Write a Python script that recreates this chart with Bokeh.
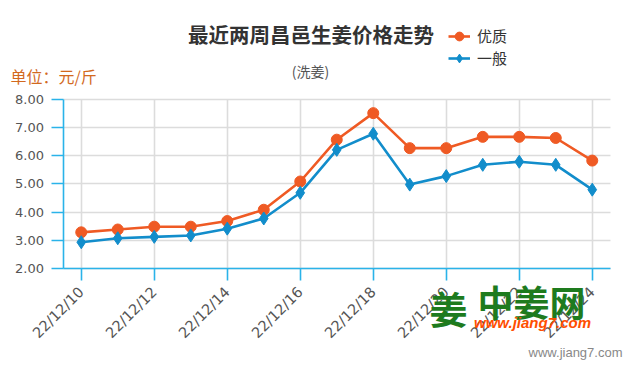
from bokeh.plotting import figure
from bokeh.models import (Range1d, FixedTicker, PrintfTickFormatter, Label,
                          Legend, LegendItem)
from bokeh.embed import file_html
from bokeh.resources import INLINE
import math

dates = ["22/12/10", "22/12/11", "22/12/12", "22/12/13", "22/12/14",
         "22/12/15", "22/12/16", "22/12/17", "22/12/18", "22/12/19",
         "22/12/20", "22/12/21", "22/12/22", "22/12/23", "22/12/24"]
premium = [3.28, 3.38, 3.48, 3.48, 3.68, 4.08, 5.08, 6.56, 7.50, 6.26,
           6.26, 6.66, 6.66, 6.62, 5.82]
ordinary = [2.93, 3.07, 3.12, 3.17, 3.41, 3.77, 4.68, 6.20, 6.77, 4.97,
            5.27, 5.67, 5.78, 5.67, 4.79]
y_ticks = [2, 3, 4, 5, 6, 7, 8]
series_names = ["优质", "一般"]

ORANGE = "#ef5a24"
BLUE = "#128dcb"
AXIS = "#2ab3e9"
GRID = "#dcdcdc"

W, H = 630, 370
# plot area in canvas pixels (from top-left)
PL, PR, PT, PB = 62.5, 610.0, 98.5, 268.0
x0, x1 = -0.5, len(dates) - 0.5
y0, y1 = y_ticks[0], y_ticks[-1]
kx = (PR - PL) / (x1 - x0)
ky = (PB - PT) / (y1 - y0)
xr = Range1d(x0 - PL / kx, x1 + (W - PR) / kx)
yr = Range1d(y0 - (H - PB) / ky, y1 + PT / ky)

p = figure(width=W, height=H, output_backend="svg", toolbar_location=None,
           x_range=xr, y_range=yr, min_border=0)
p.outline_line_color = None
p.background_fill_color = "white"
p.border_fill_color = "white"

xs = list(range(len(dates)))
xt = xs[::2]

# grid
grid_ok = "cross_bounds" in p.xgrid[0].properties()
if grid_ok:
    p.xgrid.ticker = FixedTicker(ticks=xt)
    p.ygrid.ticker = FixedTicker(ticks=y_ticks)
    p.xgrid.cross_bounds = (y0, y1)
    p.ygrid.cross_bounds = (x0, x1)
    p.xgrid.bounds = (x0, x1)
    p.ygrid.bounds = (y0, y1)
    for g in (p.xgrid, p.ygrid):
        g.grid_line_color = GRID
        g.grid_line_width = 1.6
else:
    p.xgrid.visible = False
    p.ygrid.visible = False
    p.segment(x0=xt, y0=[y0] * len(xt), x1=xt, y1=[y1] * len(xt),
              line_color=GRID, line_width=1.6)
    p.segment(x0=[x0] * len(y_ticks), y0=y_ticks, x1=[x1] * len(y_ticks),
              y1=y_ticks, line_color=GRID, line_width=1.6)

l1 = p.line(xs, premium, line_color=ORANGE, line_width=2.6)
m1 = p.scatter(xs, premium, marker="circle", size=11, fill_color=ORANGE,
               line_color=ORANGE)
l2 = p.line(xs, ordinary, line_color=BLUE, line_width=2.6)
m2 = p.scatter(xs, ordinary, marker="diamond", size=13, fill_color=BLUE,
               line_color=BLUE)

p.xaxis.fixed_location = y0
p.yaxis.fixed_location = x0
p.xaxis.bounds = (x0, x1)
p.yaxis.bounds = (y0, y1)
p.xaxis.ticker = FixedTicker(ticks=xt)
p.xaxis.major_label_overrides = {i: dates[i] for i in xt}
p.xaxis.major_label_orientation = math.pi / 4
p.yaxis.ticker = FixedTicker(ticks=y_ticks)
p.yaxis.formatter = PrintfTickFormatter(format="%.2f")

for ax in (p.xaxis, p.yaxis):
    ax.axis_line_color = AXIS
    ax.axis_line_width = 1.6
    ax.major_tick_line_color = AXIS
    ax.major_tick_line_width = 1.6
    ax.major_tick_in = 0
    ax.major_tick_out = 12
    ax.minor_tick_line_color = None
    ax.major_label_text_color = "#555555"
    ax.major_label_text_font = "DejaVu Sans"
p.xaxis.major_label_text_font_size = "14.5px"
p.yaxis.major_label_text_font_size = "13px"
p.yaxis.major_label_standoff = 7
p.xaxis.major_label_standoff = 9

legend = Legend(items=[LegendItem(label=series_names[0], renderers=[l1, m1]),
                       LegendItem(label=series_names[1], renderers=[l2, m2])],
                location=(448, H - 68.5), orientation="vertical",
                label_text_font="Noto Sans CJK SC", label_text_font_size="15px",
                label_text_color="#333333", glyph_width=22, glyph_height=22,
                label_height=22, label_standoff=7, spacing=0, padding=0,
                margin=0, border_line_color=None, background_fill_alpha=0)
p.add_layout(legend, "center")


def lab(text, fx, fy, size, color, align="left", bold=False, italic=False,
        font="Noto Sans CJK SC"):
    style = "bold" if bold else "normal"
    if italic:
        style = "bold italic" if bold else "italic"
    p.add_layout(Label(x=fx, y=H - fy, x_units="screen", y_units="screen",
                       text=text, text_font=font, text_font_size=size,
                       text_color=color, text_align=align,
                       text_baseline="middle", text_font_style=style))


lab("最近两周昌邑生姜价格走势", 310.5, 33, "20.5px", "#333333", "center", bold=True)
lab("(洗姜)", 310, 70, "14px", "#555555", "center")
lab("单位：元/斤", 10, 75, "16px", "#d2691e")
lab("姜", 448, 307, "38px", "#1e7b1e", "center", bold=True)
lab("中姜网", 531, 300, "36px", "#1e7b1e", "center", bold=True)
lab("www.jiang7.com", 532, 322, "15px", "#ff4e00", "center", bold=True,
    italic=True, font="Liberation Sans")
lab("www.jiang7.com", 622, 352, "13px", "#888888", "right",
    font="Liberation Sans")

open("out.html", "w").write(file_html(p, INLINE))
